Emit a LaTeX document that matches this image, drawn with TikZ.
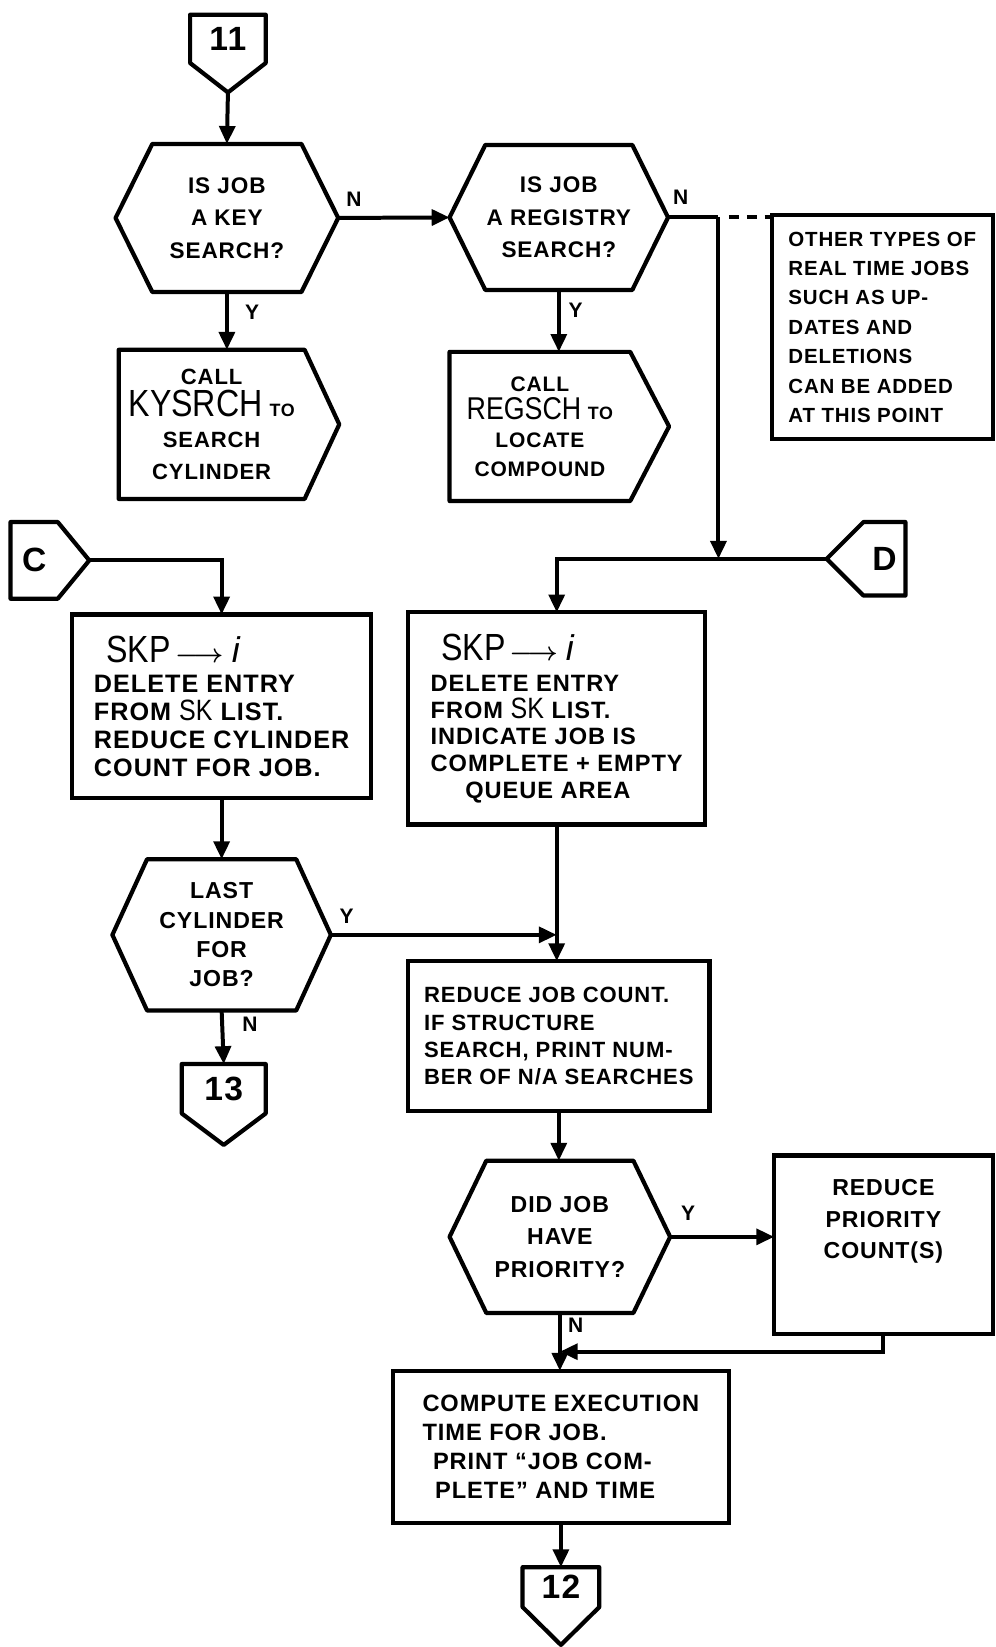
\documentclass[tikz,border=0pt]{standalone}
\usepackage{amsmath,bm}
\usepackage{fontspec}
\setmainfont{Liberation Sans}[LetterSpace=4]
\newfontfamily\tallfont[FakeStretch=0.85]{Liberation Sans}
\usetikzlibrary{arrows.meta,calc}

% outlines drawn around invisible placement nodes
\newcommand\hexframe[2]{%
  \draw[frame] (#1.west) -- ($(#1.north west)+(#2,0)$) -- ($(#1.north east)+(-#2,0)$)
    -- (#1.east) -- ($(#1.south east)+(-#2,0)$) -- ($(#1.south west)+(#2,0)$) -- cycle;}
\newcommand\procframe[2]{%
  \draw[frame] (#1.north west) -- (#1.north east) -- ($(#1.east)+(#2,0)$)
    -- (#1.south east) -- (#1.south west) -- cycle;}
\newcommand\offdown[2]{%
  \coordinate (#1-tip) at ($(#1.south)+(0,#2)$);
  \draw[frame] (#1.south west) -- (#1.north west) -- (#1.north east) -- (#1.south east) -- (#1-tip) -- cycle;}
\newcommand\offright[2]{%
  \coordinate (#1-tip) at ($(#1.east)+(#2,0)$);
  \draw[frame] (#1.north east) -- (#1.north west) -- (#1.south west) -- (#1.south east) -- (#1-tip) -- cycle;}
\newcommand\offleft[2]{%
  \coordinate (#1-tip) at ($(#1.west)+(-#2,0)$);
  \draw[frame] (#1.north west) -- (#1.north east) -- (#1.south east) -- (#1.south west) -- (#1-tip) -- cycle;}

\newcommand\bigname[2]{{\tallfont\mdseries\fontsize{#1}{#1}\selectfont #2}}
\newcommand\skpline[1]{\bigname{#1}{SKP}\,{\fontsize{24}{24}\selectfont$\boldsymbol{\longrightarrow}$}\,\,{\fontsize{34}{34}\selectfont$\mathit{i}$}}

\tikzset{
  frame/.style={line width=4pt, line join=round},
  flow/.style={line width=3.8pt, -{Triangle[width=15pt,length=17pt]}},
  link/.style={line width=3.8pt},
  place/.style={inner sep=0pt, outer sep=0pt},
  hexbox/.style={place, align=center, font=\fontsize{21.5}{31}\selectfont\bfseries},
  procbox/.style={place, align=center, font=\fontsize{21}{30}\selectfont\bfseries},
  textbox/.style={place, draw, line width=4pt, align=left, font=\fontsize{23}{26}\selectfont\bfseries},
  conn/.style={place, font=\fontsize{32}{36}\selectfont\bfseries},
  branch/.style={place, font=\fontsize{20}{20}\selectfont\bfseries},
}

\begin{document}
\begin{tikzpicture}[x=1pt,y=-1pt]
\path[use as bounding box, fill=white] (0,0) rectangle (948,1568);

% ---- entry and the two search tests
\node[conn, minimum width=72, minimum height=46] (c11) at (217,37) {11};
\offdown{c11}{28}

\node[hexbox, minimum width=212, minimum height=141] (h1) at (216,207.5) {IS JOB\\A KEY\\SEARCH?};
\hexframe{h1}{35}

\node[procbox, minimum width=177, minimum height=142] (k1) at (201.5,404)
  {CALL\\\bigname{36}{KYSRCH} {\fontsize{17}{17}\selectfont TO}\\SEARCH\\CYLINDER};
\procframe{k1}{33}

\node[hexbox, minimum width=208, minimum height=138] (h2) at (532,207) {IS JOB\\A REGISTRY\\SEARCH?};
\hexframe{h2}{34}

\node[procbox, font=\fontsize{20}{27}\selectfont\bfseries, minimum width=172, minimum height=142] (r1) at (514,406)
  {CALL\\\bigname{30}{REGSCH} {\fontsize{17}{17}\selectfont TO}\\LOCATE\\COMPOUND};
\procframe{r1}{37}

\node[textbox, font=\fontsize{19.5}{28}\selectfont\bfseries, minimum width=210, minimum height=213] (note) at (840,311.5)
  {OTHER TYPES OF\\REAL TIME JOBS\\SUCH AS UP-\\DATES AND\\DELETIONS\\CAN BE ADDED\\AT THIS POINT};

% ---- off-page entries C and D
\node[conn, minimum width=45, minimum height=73] (cC) at (32.5,533.5) {C};
\offright{cC}{30}
\node[conn, minimum width=40, minimum height=70] (cD) at (842,532) {D};
\offleft{cD}{35}

% ---- left column
\node[textbox, font=\fontsize{24}{26.7}\selectfont\bfseries, minimum width=285, minimum height=175] (s1) at (211,672.5)
  {\hspace*{12pt}\skpline{36}\\[2pt]DELETE ENTRY\\FROM \bigname{28}{SK} LIST.\\REDUCE CYLINDER\\COUNT FOR JOB.};

\node[hexbox, font=\fontsize{22}{28}\selectfont\bfseries, minimum width=208, minimum height=144] (h3) at (211,890)
  {LAST\\CYLINDER\\FOR\\JOB?};
\hexframe{h3}{33}

\node[conn, minimum width=80, minimum height=47] (c13) at (213,1036.5) {13};
\offdown{c13}{30}

% ---- right column
\node[textbox, font=\fontsize{22.5}{25.5}\selectfont\bfseries, minimum width=283, minimum height=202] (s2) at (530,684)
  {\hspace*{10pt}\skpline{36}\\[4pt]DELETE ENTRY\\FROM \bigname{28}{SK} LIST.\\INDICATE JOB IS\\COMPLETE + EMPTY\\\hspace*{33pt}QUEUE AREA};

\node[textbox, font=\fontsize{21}{26}\selectfont\bfseries, minimum width=287, minimum height=143] (rj) at (532,986.5)
  {REDUCE JOB COUNT.\\IF STRUCTURE\\SEARCH, PRINT NUM-\\BER OF N/A SEARCHES};

\node[hexbox, font=\fontsize{22}{31}\selectfont\bfseries, minimum width=210, minimum height=145] (h4) at (533,1177.5)
  {DID JOB\\HAVE\\PRIORITY?};
\hexframe{h4}{35}

\node[place, draw, line width=4pt, minimum width=208, minimum height=170] (rp) at (841,1185) {};
\node[place, align=center, font=\fontsize{22}{30}\selectfont\bfseries] (rptext) at ($(rp.center)+(0,-22)$)
  {REDUCE\\PRIORITY\\COUNT(S)};

\node[textbox, font=\fontsize{22.5}{27.7}\selectfont\bfseries, minimum width=320, minimum height=145] (cp) at (534,1377.5)
  {COMPUTE EXECUTION\\TIME FOR JOB.\\\hspace*{10pt}PRINT ``JOB COM-\\\hspace*{12pt}PLETE'' AND TIME};

\node[conn, minimum width=73, minimum height=38] (c12) at (534,1511) {12};
\offdown{c12}{36}

% ---- connectors
\draw[flow] (c11-tip) -- (h1.north);
\draw[flow] (h1.east) -- (h2.west);
\draw[flow] (h1.south) -- (h1.south |- k1.north);
\draw[flow] (h2.south) -- (h2.south |- r1.north);
\path (h2.east) ++(48,0) coordinate (jN);
\draw[link] (h2.east) -- (jN);
\draw[link, dash pattern=on 10pt off 7pt] ($(jN)+(10,0)$) -- (jN -| note.west);
\draw[flow] (jN) -- (jN |- cD-tip);
\draw[flow] (cD-tip) -| (s2.north);
\draw[flow] (cC-tip) -| (s1.north);
\draw[flow] (s1.south) -- (h3.north);
\draw[flow] (h3.east) -- (h3.east -| s2.south);
\draw[flow] (h3.south) -- (c13.north);
\draw[flow] (s2.south) -- (s2.south |- rj.north);
\draw[flow] (rj.south) -- (rj.south |- h4.north);
\draw[flow] (h4.east) -- (h4.east -| rp.west);
\draw[flow] (h4.south) -- (h4.south |- cp.north);
\draw[flow] (rp.south) |- ($(h4.south)!0.67!(h4.south |- cp.north)$);
\draw[flow] (cp.south) -- (cp.south |- c12.north);

% ---- branch labels
\node[branch] (n1) at (337,190) {N};
\node[branch] (y1) at (240,297) {Y};
\node[branch] (y2) at (548,295) {Y};
\node[branch] (n2) at (648,188) {N};
\node[branch] (y3) at (330,872) {Y};
\node[branch] (n3) at (238,975) {N};
\node[branch] (y4) at (655,1155) {Y};
\node[branch] (n4) at (548,1262) {N};
\end{tikzpicture}
\end{document}
